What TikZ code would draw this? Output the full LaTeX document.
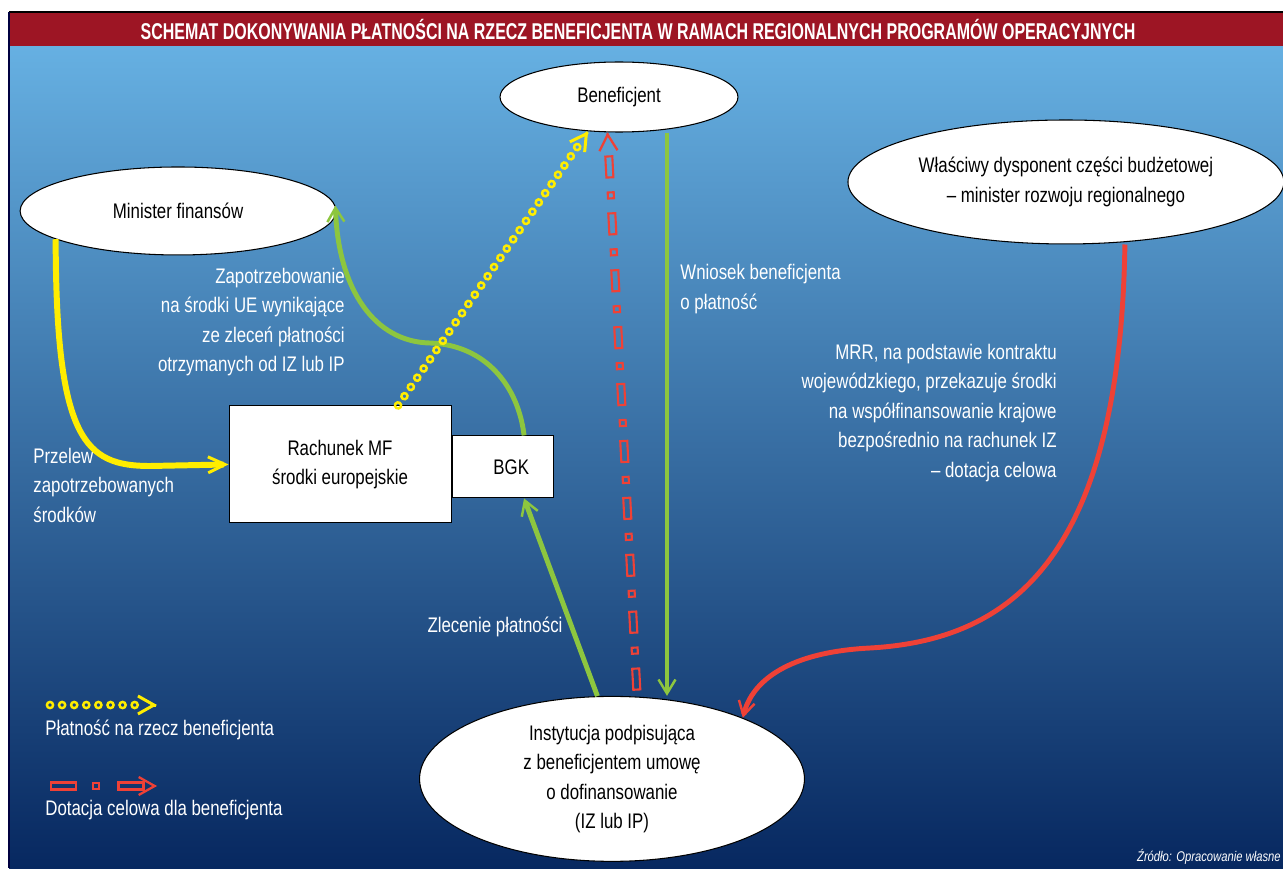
\documentclass[tikz,border=0pt]{standalone}
\usepackage{fontspec}
\setmainfont[FakeStretch=0.8]{Liberation Sans}
\newfontfamily\headfont[FakeStretch=0.7]{Liberation Sans}
\usetikzlibrary{positioning,shapes.geometric,arrows.meta,decorations.markings}
\definecolor{bgtop}{RGB}{102,176,226}
\definecolor{bgbot}{RGB}{7,40,96}
\definecolor{headred}{RGB}{157,21,36}
\definecolor{payyellow}{RGB}{255,237,0}
\definecolor{flowgreen}{RGB}{141,198,63}
\definecolor{grantred}{RGB}{239,65,54}
\begin{document}
\begin{tikzpicture}[x=0.02cm, y=-0.02cm, font=\fontsize{12}{16.8}\selectfont,
  main/.style = {ellipse, draw, fill=white, line width=0.6pt, inner sep=0pt, align=center, on grid},
  box/.style = {rectangle, draw, fill=white, line width=0.6pt, inner sep=0pt, align=center},
  lbl/.style = {text=white, inner sep=0pt},
  flow/.style = {draw=flowgreen, line width=2.8pt, -{Straight Barb[length=0.28cm, width=0.34cm, line width=1.4pt 0]}},
  cash/.style = {draw=payyellow, line width=3.4pt, -{Straight Barb[length=0.34cm, width=0.32cm, line width=1.7pt 0]}},
  grantline/.style = {draw=grantred, line width=2.8pt, -{Straight Barb[length=0.28cm, width=0.32cm, line width=1.4pt 0]}},
  payline/.style n args = {3}{postaction={decorate, decoration={markings,
    mark=between positions #1 and #2 step #3 with {\draw[payyellow, line width=1.4pt] (0,0) circle (0.062cm);},
    mark=at position 1 with {\draw[payyellow, line width=1.7pt, -{Straight Barb[length=0.32cm, width=0.36cm]}] (-0.02cm,0) -- (0,0);}}}},
  longdash/.style n args = {4}{postaction={decorate, decoration={markings,
    mark=between positions #1 and #2 step #3 with {\draw[grantred, line width=1.2pt] (-#4,-0.07cm) rectangle (#4,0.07cm);}}}},
  shortdash/.style n args = {3}{postaction={decorate, decoration={markings,
    mark=between positions #1 and #2 step #3 with {\draw[grantred, line width=1.2pt] (-0.06cm,-0.06cm) rectangle (0.06cm,0.06cm);},
    mark=at position 1 with {\draw[grantred, line width=1.3pt, -{Straight Barb[length=0.32cm, width=0.36cm]}] (-0.02cm,0) -- (0,0);}}}}
]
\useasboundingbox (0,0) rectangle (1283,868);
% tlo i pasek tytulu
\fill[white] (0,0) rectangle (1283,868);
\shade[top color=bgtop, bottom color=bgbot] (9,46) rectangle (1283,868);
\fill[headred] (9,12) rectangle (1283,46);
\draw[line width=1.2pt] (9,12) -- (1283,12);
\draw[line width=1pt, black!75!blue] (9,12) -- (9,868);
\node[lbl, font=\headfont\bfseries\fontsize{13}{15}\selectfont] (t) at (638,29) {SCHEMAT DOKONYWANIA PŁATNOŚCI NA RZECZ BENEFICJENTA W RAMACH REGIONALNYCH PROGRAMÓW OPERACYJNYCH};

% wezly
\node[main, minimum width=4.76cm, minimum height=1.40cm] (1) at (619,97) {Beneficjent};
\node[main, minimum width=6.32cm, minimum height=1.76cm] (2) [below left=2.28cm and 8.82cm of 1] {Minister finansów};
\node[main, minimum width=8.72cm, minimum height=2.48cm] (3) [below right=1.70cm and 8.94cm of 1] {Właściwy dysponent części budżetowej\\– minister rozwoju regionalnego};
\node[main, minimum width=7.7cm, minimum height=3.3cm] (6) [below left=13.64cm and 0.14cm of 1] {Instytucja podpisująca\\z beneficjentem umowę\\o dofinansowanie\\(IZ lub IP)};
\node[box, minimum width=4.44cm, minimum height=2.34cm, on grid] (4) [below right=5.07cm and 3.24cm of 2] {Rachunek MF\\środki europejskie};
\node[box, minimum height=1.24cm, text width=1.06cm, align=right, inner xsep=0.48cm] (5) [right=0cm of 4, yshift=-0.05cm] {BGK};

% opisy
\node[lbl, align=right, anchor=east] (z) at (345,322) {Zapotrzebowanie\\na środki UE wynikające\\ze zleceń płatności\\otrzymanych od IZ lub IP};
\node[lbl, align=left, anchor=west] (p) at (33,485) {Przelew\\zapotrzebowanych\\środków};
\node[lbl, align=left, anchor=west] (w) at (680,289) {Wniosek beneficjenta\\o płatność};
\node[lbl, align=right, anchor=east] (m) at (1057,413) {MRR, na podstawie kontraktu\\wojewódzkiego, przekazuje środki\\na współfinansowanie krajowe\\bezpośrednio na rachunek IZ\\– dotacja celowa};
\node[lbl] (zl) at (495,627) {Zlecenie płatności};
\node[lbl, anchor=west] (lp) at (45,730) {Płatność na rzecz beneficjenta};
\node[lbl, anchor=west] (ld) at (45,810) {Dotacja celowa dla beneficjenta};
\node[lbl, anchor=east, font=\fontsize{8}{9}\selectfont\itshape] (src) at (1281,857) {Źródło: Opracowanie własne};

% strzalki
\draw[cash] (2.193) .. controls (56,440) and (85,466) .. (150,466) -- (4.west);
\draw[flow] ([xshift=0.43cm]5.north) .. controls (518,385) and (485,345) .. (430,343) .. controls (375,342) and (338,290) .. (2.2);
\path[payline={0cm}{6.3cm}{0.2246cm}] ([xshift=1.16cm]4.north) -- (1.228);
\path[longdash={0.35cm}{10.61cm}{1.14cm}{0.21cm}, shortdash={0.92cm}{10.04cm}{1.14cm}] (6.73) -- (1.252);
\draw[flow] (6.100) -- ([xshift=0.43cm]5.south);
\draw[flow] ([xshift=0.96cm]1.south) -- ([xshift=1.1cm]6.north);
\draw[grantline] ([xshift=1.18cm]3.south) .. controls (1120,560) and (1010,640) .. (870,648) .. controls (790,652) and (752,680) .. (6.25);

% legenda
\coordinate (7) at (46,705);
\coordinate (8) at (157,705);
\path[payline={0.08cm}{1.8cm}{0.242cm}] (7) -- (8);
\coordinate (9) at (46,786);
\coordinate (10) at (157,786);
\path[longdash={0.35cm}{1.75cm}{1.35cm}{0.25cm}, shortdash={1.0cm}{1.1cm}{1cm}] (9) -- (10);
\end{tikzpicture}
\end{document}
